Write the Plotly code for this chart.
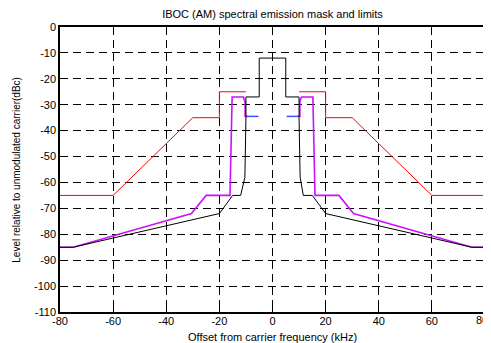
import plotly.graph_objects as go

# Red limit (two separate sides)
red_left_x = [-80, -60, -30, -20, -20, -10]
red_left_y = [-65, -65, -35, -35, -25, -25]
red_right_x = [10, 20, 20, 30, 60, 80]
red_right_y = [-25, -25, -35, -35, -65, -65]

# Magenta curve
mag_left_x = [-80, -75, -30.5, -25, -16, -15.2, -11, -10.5, -10.3, -10.3, -9.5]
mag_left_y = [-85, -85, -72, -65, -65, -27, -27, -28, -29, -34.5, -34.5]
mag_right_x = [9.5, 10.3, 10.3, 10.5, 11, 15.2, 16, 25, 30.5, 75, 80]
mag_right_y = [-34.5, -34.5, -29, -28, -27, -27, -65, -65, -72, -85, -85]

# Blue segments
blue_left_x = [-10, -5.3]
blue_left_y = [-34.5, -34.5]
blue_right_x = [5.3, 10]
blue_right_y = [-34.5, -34.5]

# Black mask
black_x = [-80, -75, -20, -15, -12, -10.4, -10, -10, -5, -5, 5, 5, 10, 10, 10.4, 11.6, 15, 20, 75, 80]
black_y = [-85, -85, -72, -65, -65, -58, -35, -27, -27, -12, -12, -27, -27, -35, -58, -65, -65, -72, -85, -85]

x_ticks = [-80, -60, -40, -20, 0, 20, 40, 60, 80]
x_tick_labels = ["-80", "-60", "-40", "-20", "0", "20", "40", "60", "80"]
y_ticks = [0, -10, -20, -30, -40, -50, -60, -70, -80, -90, -100, -110]
y_tick_labels = ["0", "-10", "-20", "-30", "-40", "-50", "-60", "-70", "-80", "-90", "-100", "-110"]

fig = go.Figure()
fig.add_trace(go.Scatter(x=red_left_x, y=red_left_y, mode="lines", line=dict(color="#ff0000", width=1)))
fig.add_trace(go.Scatter(x=red_right_x, y=red_right_y, mode="lines", line=dict(color="#ff0000", width=1)))
fig.add_trace(go.Scatter(x=blue_left_x, y=blue_left_y, mode="lines", line=dict(color="#3355ff", width=1.5)))
fig.add_trace(go.Scatter(x=blue_right_x, y=blue_right_y, mode="lines", line=dict(color="#3355ff", width=1.5)))
fig.add_trace(go.Scatter(x=mag_left_x, y=mag_left_y, mode="lines", line=dict(color="#cc11ff", width=1.6)))
fig.add_trace(go.Scatter(x=mag_right_x, y=mag_right_y, mode="lines", line=dict(color="#cc11ff", width=1.6)))
fig.add_trace(go.Scatter(x=black_x, y=black_y, mode="lines", line=dict(color="#000000", width=1)))

font_family = "Liberation Sans, Arial, sans-serif"
tick_font = dict(family=font_family, size=11, color="black")
axis_common = dict(
    showline=True, linecolor="black", linewidth=1.5, mirror="allticks",
    ticks="inside", ticklen=4, tickcolor="black", tickwidth=1,
    showgrid=True, gridcolor="black", gridwidth=1, griddash="8px,5px",
    zeroline=False, automargin=False, ticklabeloverflow="allow",
    tickfont=tick_font,
)
# the last x label sits at the window edge; it is drawn as an annotation nudged inward
fig.update_xaxes(range=[-80, 80], tickvals=x_ticks[:-1], ticktext=x_tick_labels[:-1],
                 ticklabelstandoff=-2, **axis_common)
fig.update_yaxes(range=[-110, 0], tickvals=y_ticks, ticktext=y_tick_labels,
                 **axis_common)
# page body has an 8px default margin, so the figure is sized to fill the 491x343 window
fig.update_layout(
    width=483, height=335,
    margin=dict(l=52, r=6, t=19, b=31),
    paper_bgcolor="white", plot_bgcolor="white",
    showlegend=False,
    title=dict(text="IBOC (AM) spectral emission mask and limits", xref="paper", x=0.5, xanchor="center",
               yref="container", y=1 - 6 / 335, yanchor="middle",
               font=dict(family=font_family, size=11, color="black")),
    annotations=[
        dict(text=x_tick_labels[-1], xref="x", yref="paper", x=x_ticks[-1], y=0,
             xanchor="center", yanchor="top", xshift=-3, yshift=0, showarrow=False,
             font=tick_font),
        dict(text="Offset from carrier frequency (kHz)", xref="paper", yref="paper",
             x=0.5, y=-0.088, xanchor="center", yanchor="middle", showarrow=False,
             font=dict(family=font_family, size=11, color="black")),
        dict(text="Level relative to unmodulated carrier(dBc)", xref="paper", yref="paper",
             x=-0.103, y=0.5, xanchor="center", yanchor="middle", showarrow=False, textangle=-90,
             font=dict(family=font_family, size=10, color="black")),
    ],
)
fig.write_html("out.html")
